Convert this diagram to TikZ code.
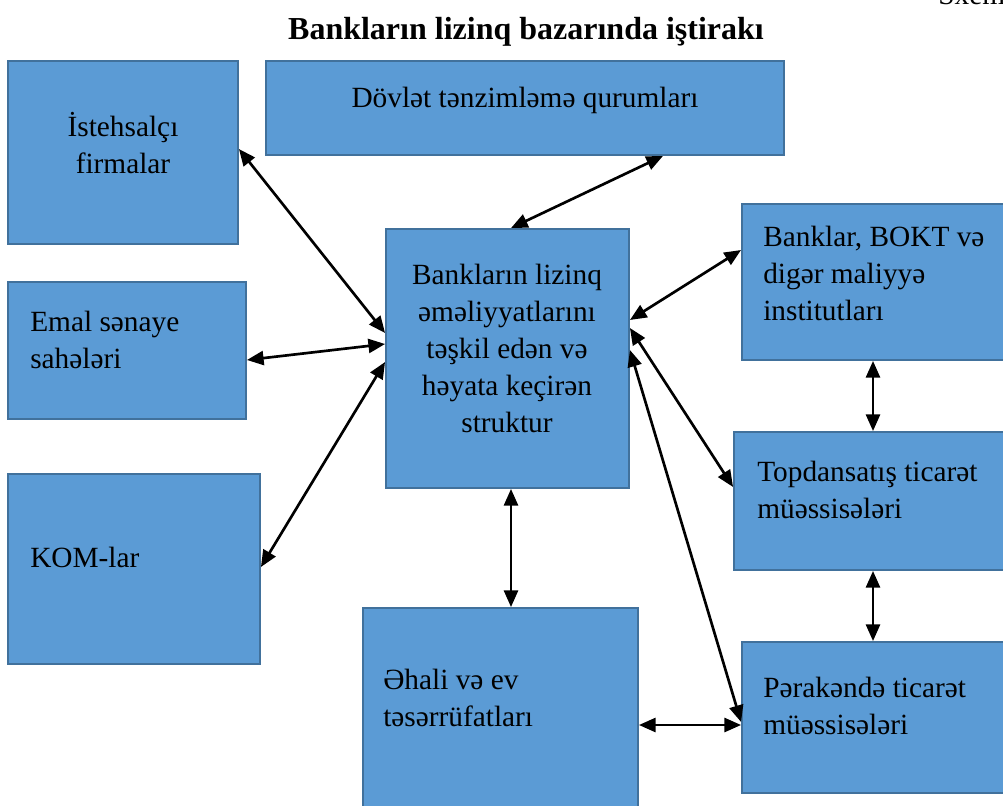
\documentclass[tikz,border=0pt]{standalone}
\usepackage{fontspec}
\setmainfont{Liberation Serif}
\usetikzlibrary{arrows.meta,fit}

\definecolor{boxblue}{HTML}{5B9BD5}
\definecolor{boxline}{HTML}{41719C}

\tikzset{
  box/.style={draw=boxline, line width=1.4pt, fill=boxblue, inner sep=0pt},
  txt/.style={font=\fontsize{22}{27.75}\selectfont, inner sep=0pt},
  link/.style={line width=2pt, {Triangle[length=12.5pt,width=10.5pt]}-{Triangle[length=12.5pt,width=10.5pt]}},
}

\begin{document}
\begin{tikzpicture}[x=0.75pt,y=-0.75pt]
\useasboundingbox (0,0) rectangle (1003,806);

% heading
\node[txt, font=\fontsize{24}{28}\selectfont\bfseries] (title) at (526,32) {Bankların lizinq bazarında iştirakı};
\node[txt, anchor=base west] (sxem) at (938,5) {Sxem};

% boxes
\node[box, fit={(8,61) (238,244)}] (ist) {};
\node[box, fit={(266,61) (784,155)}] (dovlet) {};
\node[box, fit={(8,282) (246,419)}] (emal) {};
\node[box, fit={(8,474) (260,664)}] (kom) {};
\node[box, fit={(386,229) (629,488)}] (core) {};
\node[box, fit={(742,204) (1012,360)}] (bank) {};
\node[box, fit={(734,432) (1012,570)}] (whole) {};
\node[box, fit={(742,642) (1012,793)}] (retail) {};
\node[box, fit={(363,608) (638,815)}] (home) {};

% texts
\node[txt, align=center] (istT) at (123,143) {İstehsalçı\\firmalar};
\node[txt] (dovletT) at (525,100) {Dövlət tənzimləmə qurumları};
\node[txt, align=left, anchor=west] (emalT) at (30,340) {Emal sənaye\\sahələri};
\node[txt, anchor=west] (komT) at (30,557) {KOM-lar};
\node[txt, align=center] (coreT) at (507,348) {Bankların lizinq\\əməliyyatlarını\\təşkil edən və\\həyata keçirən\\struktur};
\node[txt, align=left, anchor=west] (bankT) at (763,273) {Banklar, BOKT və\\digər maliyyə\\institutları};
\node[txt, align=left, anchor=west] (wholeT) at (757,490) {Topdansatış ticarət\\müəssisələri};
\node[txt, align=left, anchor=west] (retailT) at (763,706) {Pərakəndə ticarət\\müəssisələri};
\node[txt, align=left, anchor=west] (homeT) at (383,698) {Əhali və ev\\təsərrüfatları};

% connectors
\draw[link] (ist.east |- 0,149) -- (core.west |- 0,333);
\draw[link] (dovlet.south -| 663,0) -- (core.north -| 511,0);
\draw[link] (emal.east |- 0,360) -- (core.west |- 0,344);
\draw[link] (kom.east |- 0,567) -- (core.west |- 0,362);
\draw[link] (core.east |- 0,320) -- (bank.west |- 0,250);
\draw[link] (core.east |- 0,328) -- (whole.west |- 0,487);
\draw[link] (core.east |- 0,350) -- (retail.west |- 0,722);
\draw[link] (core.south -| 511,0) -- (home.north -| 511,0);
\draw[link] (home.east |- 0,725) -- (retail.west |- 0,725);
\draw[link] (bank.south -| 873,0) -- (whole.north -| 873,0);
\draw[link] (whole.south -| 873,0) -- (retail.north -| 873,0);
\end{tikzpicture}
\end{document}
